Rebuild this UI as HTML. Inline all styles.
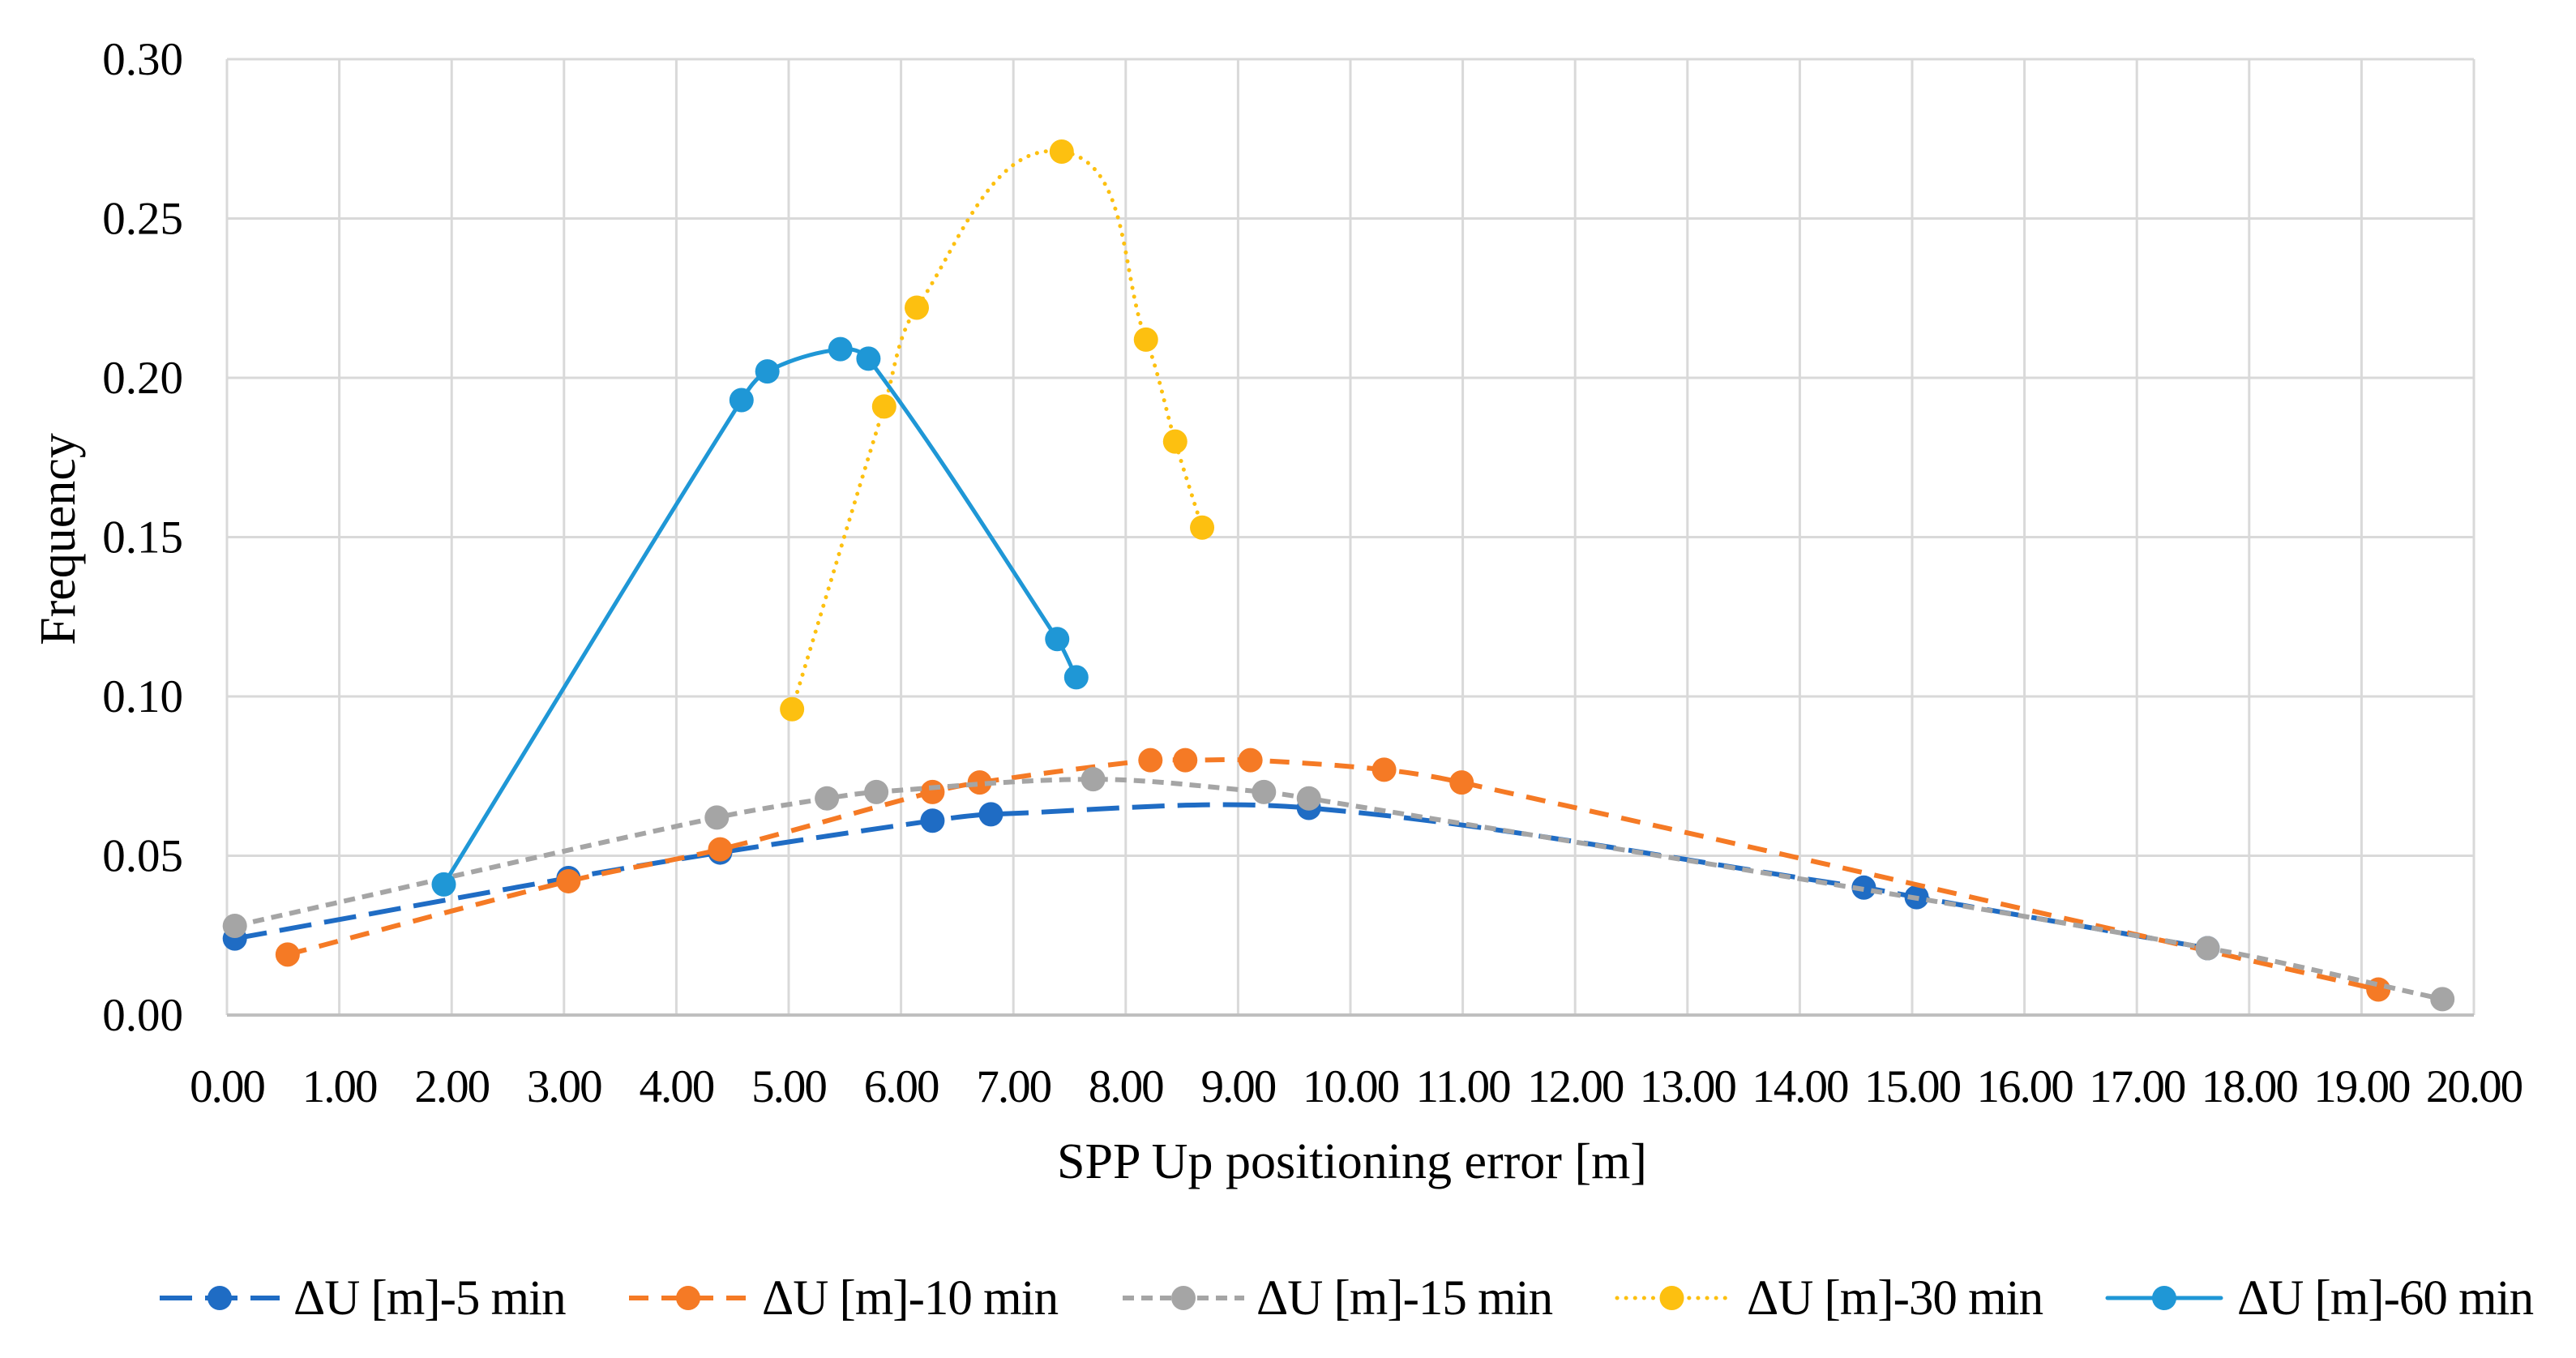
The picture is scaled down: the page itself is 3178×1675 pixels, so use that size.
<!DOCTYPE html>
<html><head><meta charset="utf-8"><style>
html,body{margin:0;padding:0;background:#fff;}
svg{display:block;font-family:"Liberation Serif",serif;}
</style></head><body>
<svg id="chart" width="3178" height="1675" viewBox="0 0 3178 1675" xmlns="http://www.w3.org/2000/svg">
<g id="grid"></g>
<g id="axes"></g>
<g id="series"></g>
<text x="0" y="0" transform="translate(92,665) rotate(-90)" text-anchor="middle" font-size="62" fill="#000">Frequency</text>
<text x="1668" y="1453" text-anchor="middle" font-size="62" fill="#000">SPP Up positioning error [m]</text>
<g id="legend"></g>
</svg>
<script>
const xTicks = [0,1,2,3,4,5,6,7,8,9,10,11,12,13,14,15,16,17,18,19,20];
const yTicks = [0,0.05,0.10,0.15,0.20,0.25,0.30];
const seriesNames = ["ΔU [m]-5 min","ΔU [m]-10 min","ΔU [m]-15 min","ΔU [m]-30 min","ΔU [m]-60 min"];
const x5 = [0.07,3.04,4.39,6.28,6.80,9.63,14.57,15.04,17.63];
const y5 = [0.024,0.043,0.051,0.061,0.063,0.065,0.040,0.037,0.021];
const x10 = [0.54,3.04,4.39,6.28,6.70,8.22,8.53,9.11,10.30,10.99,19.15];
const y10 = [0.019,0.042,0.052,0.070,0.073,0.080,0.080,0.080,0.077,0.073,0.008];
const x15 = [0.07,4.36,5.34,5.78,7.71,9.23,9.63,17.63,19.72];
const y15 = [0.028,0.062,0.068,0.070,0.074,0.070,0.068,0.021,0.005];
const x30 = [5.03,5.85,6.14,7.43,8.18,8.44,8.68];
const y30 = [0.096,0.191,0.222,0.271,0.212,0.180,0.153];
const x60 = [1.93,4.58,4.81,5.46,5.71,7.39,7.56];
const y60 = [0.041,0.193,0.202,0.209,0.206,0.118,0.106];

const NS="http://www.w3.org/2000/svg";
const L=280,R=3052,T=73,B=1252;
const sx=v=>L+(v-0)/(20-0)*(R-L);
const sy=v=>B-(v-0)/(0.30-0)*(B-T);
function mk(tag,parent){const e=document.createElementNS(NS,tag);parent.appendChild(e);return e;}
const grid=document.getElementById('grid'),axes=document.getElementById('axes'),ser=document.getElementById('series'),leg=document.getElementById('legend');

xTicks.forEach(t=>{
  const l=mk('line',grid);
  
  
  l.setAttribute('x1',sx(t));l.setAttribute('x2',sx(t));l.setAttribute('y1',T);l.setAttribute('y2',B);
  l.setAttribute('stroke','#d9d9d9');l.setAttribute('stroke-width','3');
  const tx=mk('text',axes);
  
  
  tx.setAttribute('x',sx(t));tx.setAttribute('y',1359);tx.setAttribute('text-anchor','middle');tx.setAttribute('font-size','57');
  tx.setAttribute('letter-spacing','-2');
  tx.textContent=t.toFixed(2);
});
yTicks.forEach(t=>{
  const l=mk('line',grid);
  
  
  l.setAttribute('x1',L);l.setAttribute('x2',R);l.setAttribute('y1',sy(t));l.setAttribute('y2',sy(t));
  l.setAttribute('stroke',t===0?'#bfbfbf':'#d9d9d9');l.setAttribute('stroke-width',t===0?'4':'3');
  const tx=mk('text',axes);
  
  
  tx.setAttribute('x',226);tx.setAttribute('y',sy(t)+19);tx.setAttribute('text-anchor','end');tx.setAttribute('font-size','57');
  tx.textContent=t.toFixed(2);
});

function smooth(pts){
  if(pts.length<2)return '';
  let d='M'+pts[0][0]+','+pts[0][1];
  const tan=i=>{
    const a=pts[Math.max(i-1,0)],b=pts[Math.min(i+1,pts.length-1)];
    const dx=b[0]-a[0],dy=b[1]-a[1],n=Math.hypot(dx,dy)||1;
    return [dx/n,dy/n];
  };
  for(let i=0;i<pts.length-1;i++){
    const p1=pts[i],p2=pts[i+1];
    const len=Math.hypot(p2[0]-p1[0],p2[1]-p1[1])/3;
    const t1=tan(i),t2=tan(i+1);
    const c1=[p1[0]+t1[0]*len,p1[1]+t1[1]*len];
    const c2=[p2[0]-t2[0]*len,p2[1]-t2[1]*len];
    d+=' C'+c1[0]+','+c1[1]+' '+c2[0]+','+c2[1]+' '+p2[0]+','+p2[1];
  }
  return d;
}
const styles=[
  {c:'#1f6cc4',dash:'40 16',cap:'butt',w:6,name:'series-5min'},
  {c:'#f57a25',dash:'24 16',cap:'butt',w:6,name:'series-10min'},
  {c:'#a5a5a5',dash:'14 9',cap:'butt',w:6,name:'series-15min'},
  {c:'#fdc010',dash:'0.1 11',cap:'round',w:5,name:'series-30min'},
  {c:'#1f97d6',dash:'',cap:'round',w:5,name:'series-60min'}
];
const data=[[x5,y5],[x10,y10],[x15,y15],[x30,y30],[x60,y60]];
data.forEach((s,i)=>{
  const st=styles[i];
  const g=mk('g',ser);
  
  
  const pts=s[0].map((x,j)=>[sx(x),sy(s[1][j])]);
  const p=mk('path',g);
  
  
  p.setAttribute('d',smooth(pts));p.setAttribute('fill','none');p.setAttribute('stroke',st.c);
  p.setAttribute('stroke-width',st.w);p.setAttribute('stroke-linecap',st.cap);
  if(st.dash)p.setAttribute('stroke-dasharray',st.dash);
  pts.forEach(q=>{
    const c=mk('circle',g);
    
    
    c.setAttribute('cx',q[0]);c.setAttribute('cy',q[1]);c.setAttribute('r',15);c.setAttribute('fill',st.c);
  });
});
const legX=[[197,345,362],[776,922,940],[1385,1535,1550],[1995,2130,2155],[2600,2740,2760]];
seriesNames.forEach((n,i)=>{
  const st=styles[i],y=1601;
  const g=mk('g',leg);
  
  
  const l=mk('line',g);
  
  
  l.setAttribute('x1',legX[i][0]);l.setAttribute('x2',legX[i][1]);l.setAttribute('y1',y);l.setAttribute('y2',y);
  l.setAttribute('stroke',st.c);l.setAttribute('stroke-width',st.w);l.setAttribute('stroke-linecap',st.cap);
  if(st.dash)l.setAttribute('stroke-dasharray',st.dash);
  const c=mk('circle',g);
  
  
  c.setAttribute('cx',(legX[i][0]+legX[i][1])/2);c.setAttribute('cy',y);c.setAttribute('r',15);c.setAttribute('fill',st.c);
  const t=mk('text',g);
  
  
  t.setAttribute('x',legX[i][2]);t.setAttribute('y',y+20);t.setAttribute('font-size','61');t.setAttribute('letter-spacing','-1');
  t.textContent=n;
});
</script>
</body></html>
